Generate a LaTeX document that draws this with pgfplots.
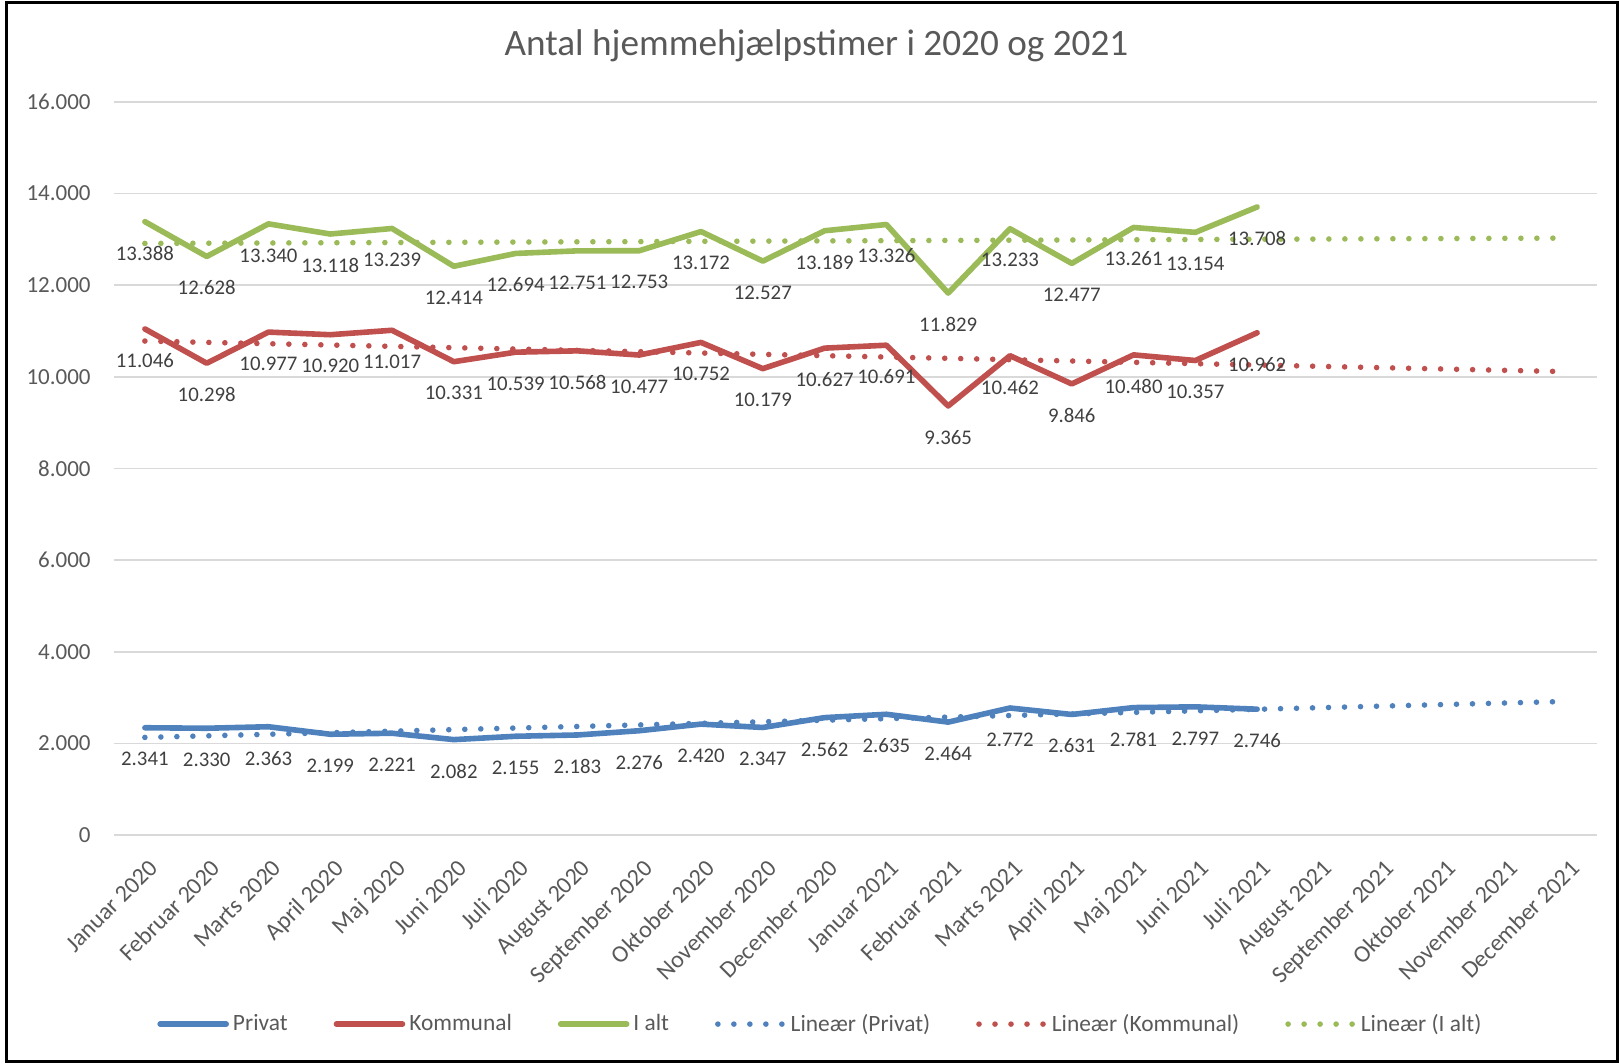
\documentclass[border=0pt]{standalone}
\usepackage{fontspec}
\setmainfont{Carlito}
\usepackage{pgfplots}
\pgfplotsset{compat=1.18}
\definecolor{cblue}{HTML}{4F81BD}
\definecolor{cred}{HTML}{C0504D}
\definecolor{cgreen}{HTML}{9BBB59}
\definecolor{tgray}{HTML}{595959}
\definecolor{lgray}{HTML}{404040}
\definecolor{gridc}{HTML}{D9D9D9}
\begin{document}
\begin{tikzpicture}
\path[use as bounding box] (-57pt,-114.5pt) rectangle (752.5pt,417.5pt);
\begin{axis}[
  at={(0,0)}, anchor=south west,
  width=741.5pt, height=366.5pt, scale only axis,
  xmin=-0.5, xmax=23.5, ymin=0, ymax=16000,
  xtick={0,...,23},
  xticklabels={Januar 2020,Februar 2020,Marts 2020,April 2020,Maj 2020,Juni 2020,Juli 2020,August 2020,September 2020,Oktober 2020,November 2020,December 2020,Januar 2021,Februar 2021,Marts 2021,April 2021,Maj 2021,Juni 2021,Juli 2021,August 2021,September 2021,Oktober 2021,November 2021,December 2021},
  ytick={0,2000,...,16000},
  scaled y ticks=false,
  yticklabel style={/pgf/number format/fixed, /pgf/number format/precision=0, /pgf/number format/1000 sep={.}, /pgf/number format/assume math mode=true},
  yticklabel style={font=\fontsize{11.5}{13}\selectfont, text=tgray, inner sep=0pt, xshift=-11.5pt},
  xticklabel style={xshift=1.5pt, yshift=-11.5pt, font=\fontsize{12}{13}\selectfont, text=tgray, inner sep=0pt, rotate=45, anchor=north east},
  axis line style={draw=none},
  major tick length=0pt,
  ymajorgrids, grid style={gridc, line width=0.8pt},
  legend columns=6,
  legend style={at={(0.477,-0.258)}, anchor=center, draw=none, fill=none,
    font=\fontsize{11.7}{13}\selectfont, text=tgray,
    /tikz/every even column/.append style={column sep=21pt}},
  legend image code/.code={\draw[#1] (0pt,0pt) -- (33pt,0pt);},
  every axis plot/.append style={line width=2.8pt, line join=round, line cap=round},
  nodes near coords={\pgfmathprintnumber[fixed,precision=0,1000 sep={.},assume math mode=true]{\pgfplotspointmeta}},
  every node near coord/.append style={anchor=center, yshift=-15.75pt, font=\fontsize{10.4}{12}\selectfont, text=lgray, inner sep=0pt},
]
\addplot[cblue] coordinates {(0,2341) (1,2330) (2,2363) (3,2199) (4,2221) (5,2082) (6,2155) (7,2183) (8,2276) (9,2420) (10,2347) (11,2562) (12,2635) (13,2464) (14,2772) (15,2631) (16,2781) (17,2797) (18,2746)};
\addlegendentry{Privat}
\addplot[cred] coordinates {(0,11046) (1,10298) (2,10977) (3,10920) (4,11017) (5,10331) (6,10539) (7,10568) (8,10477) (9,10752) (10,10179) (11,10627) (12,10691) (13,9365) (14,10462) (15,9846) (16,10480) (17,10357) (18,10962)};
\addlegendentry{Kommunal}
\addplot[cgreen] coordinates {(0,13388) (1,12628) (2,13340) (3,13118) (4,13239) (5,12414) (6,12694) (7,12751) (8,12753) (9,13172) (10,12527) (11,13189) (12,13326) (13,11829) (14,13233) (15,12477) (16,13261) (17,13154) (18,13708)};
\addlegendentry{I alt}
\addplot[cblue, nodes near coords=, dash pattern=on 0pt off 8pt] coordinates {(0,2130) (23,2915)};
\addlegendentry{Lineær (Privat)}
\addplot[cred, nodes near coords=, dash pattern=on 0pt off 8pt] coordinates {(0,10782) (23,10114)};
\addlegendentry{Lineær (Kommunal)}
\addplot[cgreen, nodes near coords=, dash pattern=on 0pt off 8pt] coordinates {(0,12912) (23,13029)};
\addlegendentry{Lineær (I alt)}
\end{axis}
\node[text=tgray, font=\fontsize{18.6}{21}\selectfont, anchor=base] at (351.25pt,389.5pt) {Antal hjemmehjælpstimer i 2020 og 2021};
\draw[black, line width=1.5pt] (-53.5pt,416.25pt) rectangle (751.5pt,-113.5pt);
\end{tikzpicture}
\end{document}
